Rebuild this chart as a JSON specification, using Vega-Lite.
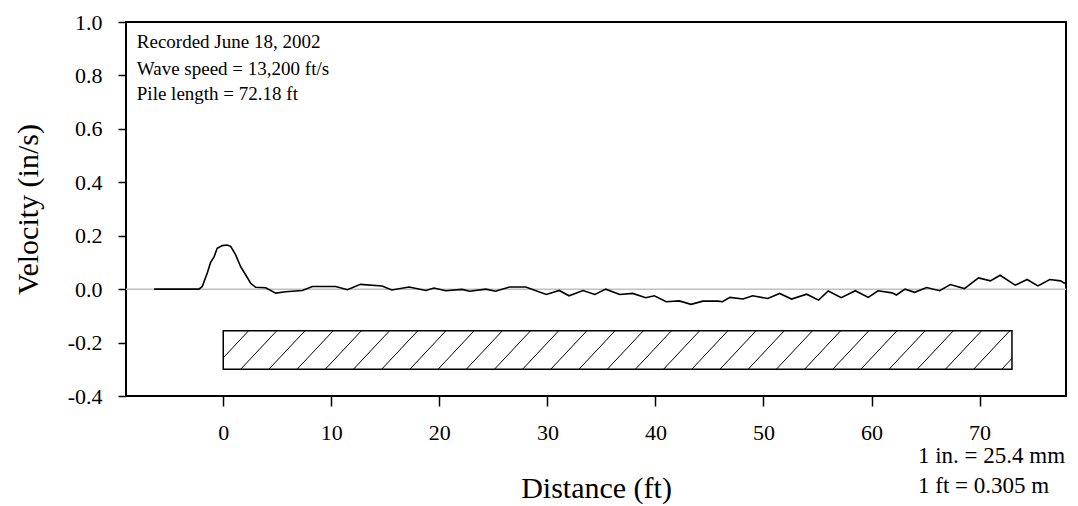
{
  "$schema": "https://vega.github.io/schema/vega-lite/v6.json",
  "autosize": {"type": "none"},
  "width": 940,
  "height": 374,
  "padding": {"left": 126, "top": 22, "right": 12, "bottom": 110},
  "background": "white",
  "config": {
    "font": "Liberation Serif",
    "view": {"stroke": "#000000", "strokeWidth": 2},
    "axis": {"grid": false, "domain": false, "tickColor": "#000000", "tickWidth": 1.5, "labelColor": "#000000", "titleColor": "#000000", "labelFont": "Liberation Serif", "titleFont": "Liberation Serif", "titleFontWeight": "normal"},
    "style": {"guide-label": {"font": "Liberation Serif"}, "guide-title": {"font": "Liberation Serif"}}
  },
  "datasets": {
    "zero": [{"v": 0}],
    "curve": [
      {"distance": -6.4, "velocity": 0},
      {"distance": -2.25, "velocity": 0},
      {"distance": -1.94, "velocity": 0.01},
      {"distance": -1.48, "velocity": 0.06},
      {"distance": -1.17, "velocity": 0.10},
      {"distance": -0.86, "velocity": 0.12},
      {"distance": -0.56, "velocity": 0.153},
      {"distance": -0.09, "velocity": 0.163},
      {"distance": 0.37, "velocity": 0.165},
      {"distance": 0.69, "velocity": 0.16},
      {"distance": 1.15, "velocity": 0.128},
      {"distance": 1.61, "velocity": 0.084},
      {"distance": 2.08, "velocity": 0.053},
      {"distance": 2.54, "velocity": 0.022},
      {"distance": 3.0, "velocity": 0.007},
      {"distance": 3.93, "velocity": 0.005},
      {"distance": 4.86, "velocity": -0.015},
      {"distance": 5.78, "velocity": -0.01},
      {"distance": 7.32, "velocity": -0.005},
      {"distance": 8.25, "velocity": 0.01},
      {"distance": 10.4, "velocity": 0.01},
      {"distance": 11.5, "velocity": -0.002},
      {"distance": 12.7, "velocity": 0.018},
      {"distance": 14.7, "velocity": 0.012},
      {"distance": 15.6, "velocity": -0.003},
      {"distance": 17.2, "velocity": 0.008},
      {"distance": 18.76, "velocity": -0.005},
      {"distance": 19.5, "velocity": 0.004},
      {"distance": 20.6, "velocity": -0.006},
      {"distance": 22.1, "velocity": -0.001},
      {"distance": 22.8, "velocity": -0.008},
      {"distance": 24.3, "velocity": 0.0},
      {"distance": 25.2, "velocity": -0.008},
      {"distance": 26.5, "velocity": 0.008},
      {"distance": 28.0, "velocity": 0.008},
      {"distance": 29.9, "velocity": -0.02},
      {"distance": 31.1, "velocity": -0.005},
      {"distance": 32.0, "velocity": -0.025},
      {"distance": 33.3, "velocity": -0.005},
      {"distance": 34.4, "velocity": -0.02},
      {"distance": 35.4, "velocity": 0.0},
      {"distance": 36.7, "velocity": -0.02},
      {"distance": 37.9, "velocity": -0.016},
      {"distance": 39.1, "velocity": -0.032},
      {"distance": 39.9, "velocity": -0.025},
      {"distance": 41.0, "velocity": -0.047},
      {"distance": 42.2, "velocity": -0.044},
      {"distance": 43.3, "velocity": -0.057},
      {"distance": 44.4, "velocity": -0.045},
      {"distance": 45.8, "velocity": -0.045},
      {"distance": 46.2, "velocity": -0.047},
      {"distance": 46.9, "velocity": -0.031},
      {"distance": 48.1, "velocity": -0.037},
      {"distance": 49.0, "velocity": -0.025},
      {"distance": 50.4, "velocity": -0.035},
      {"distance": 51.5, "velocity": -0.016},
      {"distance": 52.6, "velocity": -0.037},
      {"distance": 54.0, "velocity": -0.019},
      {"distance": 55.1, "velocity": -0.041},
      {"distance": 56.0, "velocity": -0.007},
      {"distance": 57.2, "velocity": -0.032},
      {"distance": 58.5, "velocity": -0.006},
      {"distance": 59.7, "velocity": -0.031},
      {"distance": 60.6, "velocity": -0.006},
      {"distance": 61.9, "velocity": -0.014},
      {"distance": 62.3, "velocity": -0.022},
      {"distance": 63.1, "velocity": 0.0},
      {"distance": 64.0, "velocity": -0.012},
      {"distance": 65.1, "velocity": 0.006},
      {"distance": 66.3, "velocity": -0.006},
      {"distance": 67.3, "velocity": 0.017},
      {"distance": 68.6, "velocity": 0.002},
      {"distance": 69.9, "velocity": 0.042},
      {"distance": 71.0, "velocity": 0.031},
      {"distance": 71.9, "velocity": 0.052},
      {"distance": 73.3, "velocity": 0.015},
      {"distance": 74.4, "velocity": 0.036},
      {"distance": 75.4, "velocity": 0.012},
      {"distance": 76.5, "velocity": 0.036},
      {"distance": 77.5, "velocity": 0.031},
      {"distance": 77.9, "velocity": 0.021}
    ],
    "hatch": [
      {"x": 0, "y": -0.257, "x2": 2.34, "y2": -0.156},
      {"x": 1.61, "y": -0.30, "x2": 4.95, "y2": -0.156},
      {"x": 4.22, "y": -0.30, "x2": 7.56, "y2": -0.156},
      {"x": 6.83, "y": -0.30, "x2": 10.17, "y2": -0.156},
      {"x": 9.44, "y": -0.30, "x2": 12.78, "y2": -0.156},
      {"x": 12.05, "y": -0.30, "x2": 15.39, "y2": -0.156},
      {"x": 14.66, "y": -0.30, "x2": 18.0, "y2": -0.156},
      {"x": 17.27, "y": -0.30, "x2": 20.61, "y2": -0.156},
      {"x": 19.88, "y": -0.30, "x2": 23.22, "y2": -0.156},
      {"x": 22.49, "y": -0.30, "x2": 25.83, "y2": -0.156},
      {"x": 25.10, "y": -0.30, "x2": 28.44, "y2": -0.156},
      {"x": 27.70, "y": -0.30, "x2": 31.04, "y2": -0.156},
      {"x": 30.31, "y": -0.30, "x2": 33.65, "y2": -0.156},
      {"x": 32.92, "y": -0.30, "x2": 36.26, "y2": -0.156},
      {"x": 35.54, "y": -0.30, "x2": 38.88, "y2": -0.156},
      {"x": 38.14, "y": -0.30, "x2": 41.48, "y2": -0.156},
      {"x": 40.75, "y": -0.30, "x2": 44.09, "y2": -0.156},
      {"x": 43.36, "y": -0.30, "x2": 46.70, "y2": -0.156},
      {"x": 45.97, "y": -0.30, "x2": 49.31, "y2": -0.156},
      {"x": 48.58, "y": -0.30, "x2": 51.92, "y2": -0.156},
      {"x": 51.19, "y": -0.30, "x2": 54.53, "y2": -0.156},
      {"x": 53.80, "y": -0.30, "x2": 57.14, "y2": -0.156},
      {"x": 56.41, "y": -0.30, "x2": 59.75, "y2": -0.156},
      {"x": 59.01, "y": -0.30, "x2": 62.35, "y2": -0.156},
      {"x": 61.62, "y": -0.30, "x2": 64.96, "y2": -0.156},
      {"x": 64.23, "y": -0.30, "x2": 67.57, "y2": -0.156},
      {"x": 66.84, "y": -0.30, "x2": 70.18, "y2": -0.156},
      {"x": 69.45, "y": -0.30, "x2": 72.79, "y2": -0.156},
      {"x": 72.06, "y": -0.30, "x2": 73.0, "y2": -0.259}
    ],
    "pile": [{"x": 0, "x2": 73, "y": -0.30, "y2": -0.156}],
    "notes": [
      {"x": -8.0, "y": 0.903, "size": "small", "text": "Recorded June 18, 2002"},
      {"x": -8.0, "y": 0.802, "size": "small", "text": "Wave speed = 13,200 ft/s"},
      {"x": -8.0, "y": 0.708, "size": "small", "text": "Pile length = 72.18 ft"},
      {"x": 64.3, "y": -0.651, "size": "large", "text": "1 in. = 25.4 mm"},
      {"x": 64.3, "y": -0.762, "size": "large", "text": "1 ft = 0.305 m"}
    ]
  },
  "layer": [
    {
      "data": {"name": "zero"},
      "mark": {"type": "rule", "color": "#c0c0c0", "strokeWidth": 1.5},
      "encoding": {
        "y": {"field": "v", "type": "quantitative",
          "scale": {"domain": [-0.4, 1.0], "nice": false, "zero": false},
          "axis": {"title": "Velocity (in/s)", "values": [-0.4, -0.2, 0, 0.2, 0.4, 0.6, 0.8, 1.0], "labelExpr": "replace(format(datum.value, '.1f'), '\u2212', '-')", "tickSize": 8, "labelFont": "serif", "labelFontSize": 22, "labelPadding": 16, "titleFont": "serif", "titleFontSize": 30, "titleFontWeight": "normal", "titlePadding": 24}}
      }
    },
    {
      "data": {"name": "pile"},
      "mark": {"type": "rect", "fill": "#ffffff", "stroke": "#000000", "strokeWidth": 1.5},
      "encoding": {
        "x": {"field": "x", "type": "quantitative", "title": "Distance (ft)"},
        "x2": {"field": "x2"},
        "y": {"field": "y", "type": "quantitative", "title": "Velocity (in/s)"},
        "y2": {"field": "y2"}
      }
    },
    {
      "data": {"name": "hatch"},
      "mark": {"type": "rule", "color": "#000000", "strokeWidth": 1},
      "encoding": {
        "x": {"field": "x", "type": "quantitative", "title": "Distance (ft)"},
        "x2": {"field": "x2"},
        "y": {"field": "y", "type": "quantitative", "title": "Velocity (in/s)"},
        "y2": {"field": "y2"}
      }
    },
    {
      "data": {"name": "curve"},
      "mark": {"type": "line", "color": "#000000", "strokeWidth": 1.6, "interpolate": "linear"},
      "encoding": {
        "x": {"field": "distance", "type": "quantitative",
          "scale": {"domain": [-9, 78], "nice": false, "zero": false},
          "axis": {"title": "Distance (ft)", "values": [0, 10, 20, 30, 40, 50, 60, 70], "tickSize": 10, "labelFont": "serif", "labelFontSize": 22, "labelPadding": 16, "titleFont": "serif", "titleFontSize": 30, "titleFontWeight": "normal", "titlePadding": 30}},
        "y": {"field": "velocity", "type": "quantitative", "title": "Velocity (in/s)"}
      }
    },
    {
      "data": {"name": "notes"},
      "mark": {"type": "text", "align": "left", "baseline": "alphabetic", "font": "Liberation Serif", "color": "#000000", "clip": false},
      "encoding": {
        "x": {"field": "x", "type": "quantitative", "title": "Distance (ft)"},
        "y": {"field": "y", "type": "quantitative", "title": "Velocity (in/s)"},
        "text": {"field": "text"},
        "size": {"field": "size", "type": "nominal", "scale": {"domain": ["small", "large"], "range": [19, 23]}, "legend": null}
      }
    }
  ]
}
